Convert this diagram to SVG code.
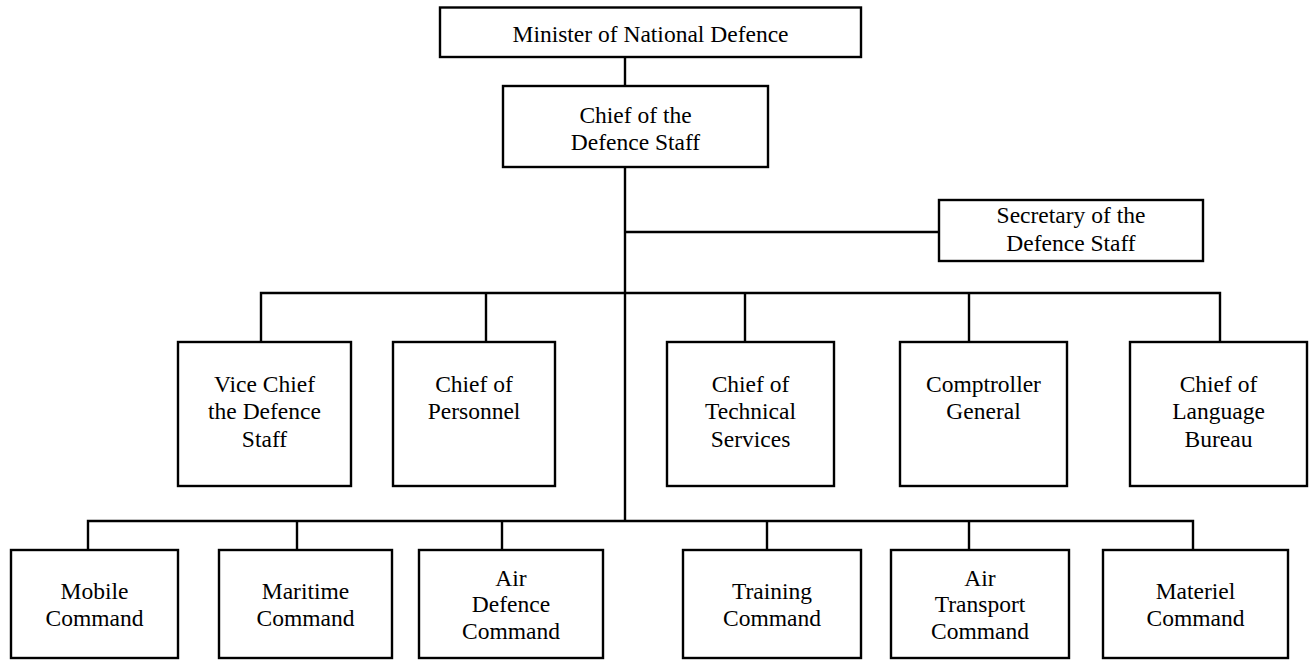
<svg xmlns="http://www.w3.org/2000/svg" width="1314" height="660" viewBox="0 0 1314 660">
<style>
.box{fill:#fff;stroke:#000;stroke-width:2.4}
.ln{fill:none;stroke:#000;stroke-width:2.4}
text{font-family:"Liberation Serif","Times New Roman",serif;font-size:23.5px;fill:#000;text-anchor:middle}
</style>
<rect width="1314" height="660" fill="#fff"/>
<g id="connectors">
<line class="ln" x1="625" y1="57" x2="625" y2="86"/>
<line class="ln" x1="625" y1="167" x2="625" y2="521"/>
<line class="ln" x1="625" y1="232" x2="939" y2="232"/>
<polyline class="ln" points="261,342 261,293 1220,293 1220,342"/>
<line class="ln" x1="486" y1="293" x2="486" y2="342"/>
<line class="ln" x1="745" y1="293" x2="745" y2="342"/>
<line class="ln" x1="969" y1="293" x2="969" y2="342"/>
<polyline class="ln" points="88,550 88,521 1193,521 1193,550"/>
<line class="ln" x1="297" y1="521" x2="297" y2="550"/>
<line class="ln" x1="502" y1="521" x2="502" y2="550"/>
<line class="ln" x1="767" y1="521" x2="767" y2="550"/>
<line class="ln" x1="969" y1="521" x2="969" y2="550"/>
</g>
<g id="minister"><rect class="box" x="440" y="7.5" width="421" height="49.5"/><text x="650.5" y="41.5">Minister of National Defence</text></g>
<g id="cds"><rect class="box" x="503" y="86" width="265" height="81"/><text x="635.5" y="122.5">Chief of the</text><text x="635.5" y="150">Defence Staff</text></g>
<g id="secretary"><rect class="box" x="939" y="200" width="264" height="61"/><text x="1071" y="223">Secretary of the</text><text x="1071" y="251">Defence Staff</text></g>
<g id="vcds"><rect class="box" x="178" y="342" width="173" height="144"/><text x="264.5" y="391.5">Vice Chief</text><text x="264.5" y="419">the Defence</text><text x="264.5" y="446.5">Staff</text></g>
<g id="personnel"><rect class="box" x="393" y="342" width="162" height="144"/><text x="474" y="391.5">Chief of</text><text x="474" y="419">Personnel</text></g>
<g id="technical"><rect class="box" x="667" y="342" width="167" height="144"/><text x="750.5" y="391.5">Chief of</text><text x="750.5" y="419">Technical</text><text x="750.5" y="446.5">Services</text></g>
<g id="comptroller"><rect class="box" x="900" y="342" width="167" height="144"/><text x="983.5" y="391.5">Comptroller</text><text x="983.5" y="419">General</text></g>
<g id="language"><rect class="box" x="1130" y="342" width="177" height="144"/><text x="1218.5" y="391.5">Chief of</text><text x="1218.5" y="419">Language</text><text x="1218.5" y="446.5">Bureau</text></g>
<g id="mobile"><rect class="box" x="11" y="550" width="167" height="108"/><text x="94.5" y="599">Mobile</text><text x="94.5" y="625.5">Command</text></g>
<g id="maritime"><rect class="box" x="219" y="550" width="173" height="108"/><text x="305.5" y="599">Maritime</text><text x="305.5" y="625.5">Command</text></g>
<g id="airdefence"><rect class="box" x="419" y="550" width="184" height="108"/><text x="511" y="585.5">Air</text><text x="511" y="612">Defence</text><text x="511" y="638.5">Command</text></g>
<g id="training"><rect class="box" x="683" y="550" width="178" height="108"/><text x="772" y="599">Training</text><text x="772" y="625.5">Command</text></g>
<g id="airtransport"><rect class="box" x="891" y="550" width="178" height="108"/><text x="980" y="585.5">Air</text><text x="980" y="612">Transport</text><text x="980" y="638.5">Command</text></g>
<g id="materiel"><rect class="box" x="1103" y="550" width="185" height="108"/><text x="1195.5" y="599">Materiel</text><text x="1195.5" y="625.5">Command</text></g>
</svg>
